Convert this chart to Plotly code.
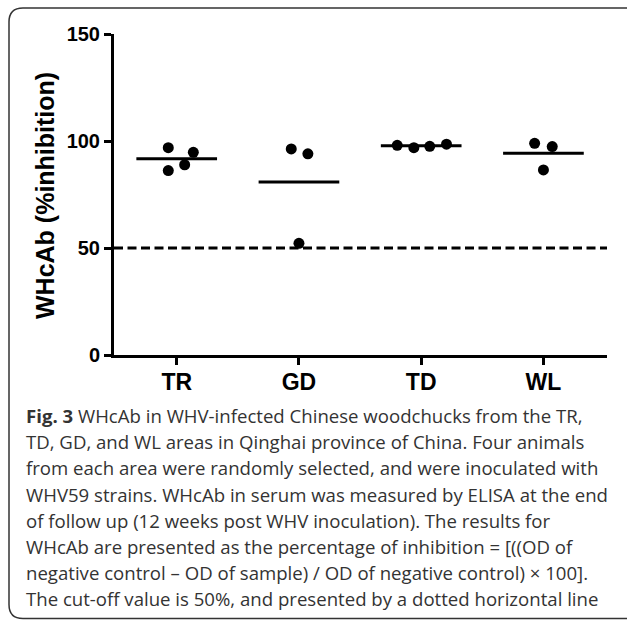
import plotly.graph_objects as go

# ---- data ----
categories = ["TR", "GD", "TD", "WL"]
tr_values = [96.9, 94.7, 88.9, 86.2]
gd_values = [96.3, 94.0, 52.2]
td_values = [98.0, 96.9, 97.5, 98.5]
wl_values = [98.9, 97.4, 86.5]
cutoff_value = 50
y_tick_values = [0, 50, 100, 150]
y_title = "WHcAb (%inhibition)"
caption_lines = [
    "<b>Fig. 3</b> WHcAb in WHV-infected Chinese woodchucks from the TR,",
    "TD, GD, and WL areas in Qinghai province of China. Four animals",
    "from each area were randomly selected, and were inoculated with",
    "WHV59 strains. WHcAb in serum was measured by ELISA at the end",
    "of follow up (12 weeks post WHV inoculation). The results for",
    "WHcAb are presented as the percentage of inhibition = [((OD of",
    "negative control \u2013 OD of sample) / OD of negative control) \u00d7 100].",
    "The cut-off value is 50%, and presented by a dotted horizontal line",
]

groups = [tr_values, gd_values, td_values, wl_values]
# horizontal scatter of dots within each column (layout only)
jitter = [
    [-0.069, 0.136, 0.065, -0.069],
    [-0.063, 0.073, 0.0],
    [-0.196, -0.06, 0.07, 0.207],
    [-0.072, 0.072, 0.0],
]

# ---- layout geometry (pixels) ----
W, H = 627, 620
L, R, T, B = 114, 20, 34, 265
PW, PH = W - L - R, H - T - B


def px(x):
    return (x - L) / PW


def py(y):
    return (H - B - y) / PH


fig = go.Figure()

# mean lines
for i, vals in enumerate(groups):
    m = sum(vals) / len(vals)
    fig.add_trace(go.Scatter(
        x=[i - 0.33, i + 0.33], y=[m, m], mode="lines",
        line=dict(color="black", width=3), hoverinfo="skip", showlegend=False))

# cut-off line
fig.add_trace(go.Scatter(
    x=[-0.513, 3.52], y=[cutoff_value, cutoff_value], mode="lines",
    line=dict(color="black", width=3, dash="9px,4.5px"), showlegend=False))

# dots
for i, vals in enumerate(groups):
    fig.add_trace(go.Scatter(
        x=[i + j for j in jitter[i]], y=vals, mode="markers",
        marker=dict(color="black", size=11), showlegend=False))

axis_font = dict(family="Liberation Sans, Arial, sans-serif", size=20, color="black", weight="bold")

fig.update_xaxes(
    range=[-0.513, 3.52], tickvals=list(range(len(categories))), ticktext=categories,
    showline=True, linewidth=3, linecolor="black", ticks="outside", ticklen=7,
    tickwidth=3, tickcolor="black", showgrid=False, zeroline=False,
    tickfont=dict(family="Liberation Sans, Arial, sans-serif", size=23, color="black", weight="bold"),
    ticklabelstandoff=-3,
)
fig.update_yaxes(
    range=[0, 150], tickvals=y_tick_values,
    showline=True, linewidth=3, linecolor="black", ticks="outside", ticklen=7,
    tickwidth=3, tickcolor="black", showgrid=False, zeroline=False,
    tickfont=axis_font,
)

annotations = [
    dict(text="<b>" + y_title + "</b>", textangle=-90, xref="paper", yref="paper",
         x=px(45), y=py(196), xanchor="center", yanchor="middle", showarrow=False,
         font=dict(family="Liberation Sans, Arial, sans-serif", size=25, color="black")),
]
line_y = [415, 441, 467, 494, 520, 546, 572, 598]
for txt, yy in zip(caption_lines, line_y):
    annotations.append(dict(
        text=txt, xref="paper", yref="paper", x=px(24), y=py(yy),
        xanchor="left", yanchor="middle", showarrow=False, align="left",
        font=dict(family="Open Sans, sans-serif", size=18.6, color="#333333")))

# rounded frame (right side and bottom run off the picture)
r = 14
x0, y0, x1, y1 = 9, 8, 660, 618.5
path = (f"M {px(x0)},{py(y1 - r)} L {px(x0)},{py(y0 + r)} "
        f"Q {px(x0)},{py(y0)} {px(x0 + r)},{py(y0)} L {px(x1)},{py(y0)} "
        f"M {px(x0)},{py(y1 - r)} Q {px(x0)},{py(y1)} {px(x0 + r)},{py(y1)} L {px(x1)},{py(y1)}")
shapes = [dict(type="path", path=path, xref="paper", yref="paper",
               line=dict(color="#333333", width=1.5), layer="above")]

fig.update_layout(
    width=W, height=H, margin=dict(l=L, r=R, t=T, b=B, autoexpand=False),
    paper_bgcolor="white", plot_bgcolor="white",
    annotations=annotations, shapes=shapes, showlegend=False,
)

fig.write_html("out.html")
